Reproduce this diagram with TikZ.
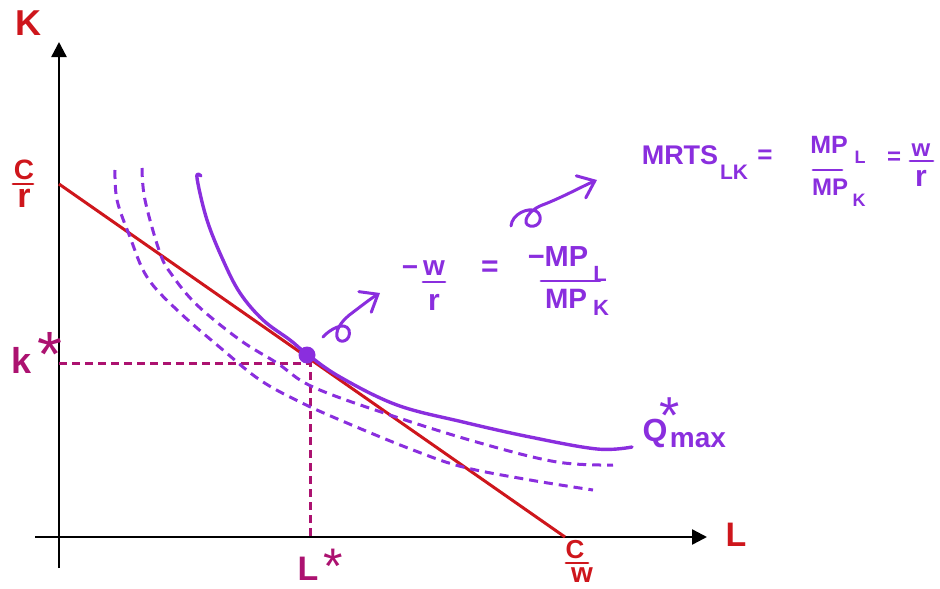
\documentclass[tikz,border=0pt]{standalone}
\usepackage{fontspec}
\setmainfont{Liberation Sans}
\usetikzlibrary{arrows.meta}
\definecolor{hred}{RGB}{206,22,28}
\definecolor{hpur}{RGB}{138,46,222}
\definecolor{hmag}{RGB}{172,18,112}
\newcommand{\fs}[1]{\fontsize{#1}{#1}\selectfont}
\newcommand{\hstar}{\mdseries\raisebox{-0.43em}[0.29em][0pt]{*}}
\tikzset{
  lab/.style={inner sep=0pt, outer sep=0pt, font=\bfseries},
  redlab/.style={lab, text=hred},
  maglab/.style={lab, text=hmag},
  purlab/.style={lab, text=hpur},
  axis/.style={line width=2.4pt, black, -{Triangle[length=15pt,width=15pt]}},
  budget/.style={line width=3pt, hred},
  guide/.style={line width=3pt, hmag, dash pattern=on 8pt off 5pt},
  isoq/.style={line width=3.4pt, hpur, line cap=round, line join=round},
  isoqd/.style={line width=3pt, hpur, dash pattern=on 9pt off 6pt},
  fbar/.style={line width=2.8pt, line cap=round},
  curly/.style={line width=3pt, hpur, line cap=round, line join=round,
     -{Straight Barb[length=15pt,width=24pt,line cap=round]}},
}
\begin{document}
\begin{tikzpicture}[x=1pt,y=-1pt]
\useasboundingbox (0,0) rectangle (940,589);
% axes
\coordinate (ybot) at (59,568);
\coordinate (ytop) at (59,42);
\coordinate (xleft) at (35,537);
\coordinate (xend) at (707,537);
\draw[axis] (ybot) -- (ytop);
\draw[axis] (xleft) -- (xend);
% budget line
\coordinate (Cr) at (59,184);
\coordinate (Cw) at (565,537);
\draw[budget] (Cr) -- (Cw);
% guides
\coordinate (Kst) at (59,363);
\coordinate (Ecorner) at (310,363);
\coordinate (Lst) at (310,537);
\draw[guide] (Kst) -- (Ecorner) -- (Lst);
% isoquants
\draw[isoqd] plot[smooth, tension=0.6] coordinates {(115,170) (117,200) (130,237) (147,277) (177,310) (223,350) (260,380) (300,402) (347,423) (413,450) (463,467) (530,480) (593,490)};
\draw[isoqd] plot[smooth, tension=0.6] coordinates {(142,168) (145,200) (160,253) (172,275) (197,305) (240,340) (277,363) (313,387) (390,415) (480,443) (557,462) (613,465)};
\draw[isoq] plot[smooth, tension=0.6] coordinates {(201,176) (197,178) (207,220) (223,260) (240,293) (263,320) (290,340) (307,354) (340,377) (397,405) (463,422) (530,437) (597,449) (632,447)};
% tangency point
\node[circle, fill=hpur, minimum size=17pt, inner sep=0pt] (E) at (307,355) {};
% curly arrows
\draw[curly] (323,337) .. controls (330,329) and (345,321) .. (349,330) .. controls (352,341) and (339,345) .. (337,337) .. controls (335,328) and (345,318) .. (352,313) .. controls (360,307) and (370,299) .. (380,293);
\draw[curly] (511,226) .. controls (512,214) and (528,207) .. (536,211) .. controls (544,216) and (540,228) .. (530,226) .. controls (521,224) and (527,210) .. (545,204) .. controls (565,196) and (583,186) .. (597,180);
% red labels
\node[redlab] (Klab) at (28,23) {\fs{36}K};
\node[redlab] (Crn) at (24,170) {\fs{28}C};
\draw[fbar, hred] (13,184) -- (33,184);
\node[redlab] (Crd) at (24,198) {\fs{34}r};
\node[redlab] (Cwn) at (575,550) {\fs{26}C};
\draw[fbar, hred] (566,563) -- (588,563);
\node[redlab] (Cwd) at (582,575) {\fs{28}w};
\node[redlab] (Llab) at (736,535) {\fs{34}L};
% magenta labels
\node[maglab] (klab) at (22,360) {\fs{36}k};
\node[maglab] (kstar) at (50,340) {\fs{64}\hstar};
\node[maglab] (Llab2) at (308,569) {\fs{34}L};
\node[maglab] (Lstar) at (333,555) {\fs{50}\hstar};
% Q*max
\node[purlab] (Q) at (655,433) {\fs{32}Q};
\node[purlab] (max) at (698,440) {\fs{28}max};
\node[purlab] (Qstar) at (670,404) {\fs{52}\hstar};
% -w/r = -MP_L/MP_K
\node[purlab] (mw) at (410,271) {\fs{28}−};
\node[purlab] (w1) at (434,268) {\fs{28}w};
\draw[fbar, hpur] (423,282) -- (445,282);
\node[purlab] (r1) at (434,302) {\fs{30}r};
\node[purlab] (eq1) at (490,269) {\fs{30}=};
\node[purlab] (mMPL) at (558,257) {\fs{29}−MP};
\node[purlab] (subL1) at (600,274) {\fs{22}L};
\draw[fbar, hpur] (541,281) -- (600,281);
\node[purlab] (MPK1) at (566,299) {\fs{28}MP};
\node[purlab] (subK1) at (601,308) {\fs{22}K};
% MRTS
\node[purlab] (mrts) at (680,155) {\fs{27}MRTS};
\node[purlab] (subLK) at (734,172) {\fs{21}LK};
\node[purlab] (eq2) at (765,157) {\fs{26}=};
\node[purlab] (MPL2) at (829,145) {\fs{25}MP};
\node[purlab] (subL2) at (860,157) {\fs{18}L};
\draw[fbar, hpur] (813,170) -- (842,170);
\node[purlab] (MPK2) at (830,187) {\fs{24}MP};
\node[purlab] (subK2) at (859,200) {\fs{18}K};
\node[purlab] (eq3) at (894,158) {\fs{24}=};
\node[purlab] (w2) at (921,150) {\fs{24}w};
\draw[fbar, hpur] (910,161) -- (933,161);
\node[purlab] (r2) at (921,178) {\fs{30}r};
\end{tikzpicture}
\end{document}
